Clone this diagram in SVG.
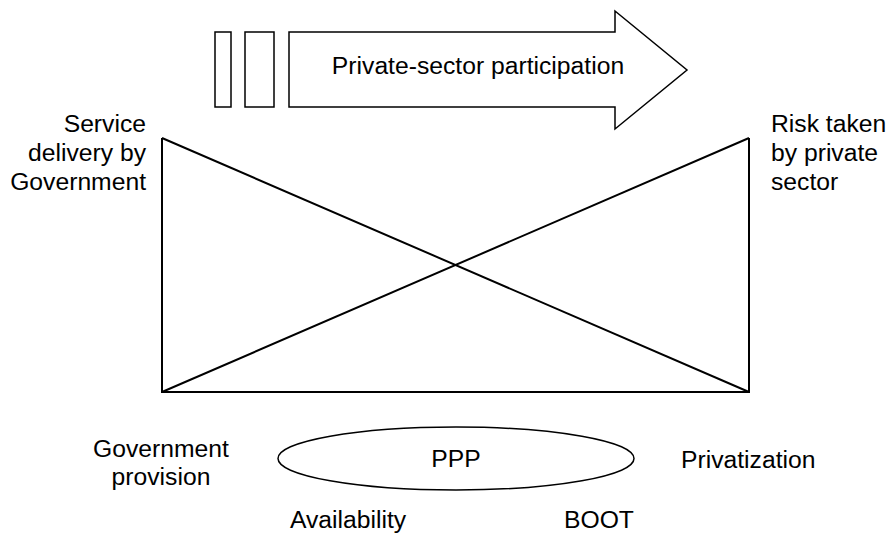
<svg xmlns="http://www.w3.org/2000/svg" width="889" height="534" viewBox="0 0 889 534">
<style>
text{font-family:"Liberation Sans",Arial,sans-serif;font-size:24.7px;fill:#000}
.thin{fill:#fff;stroke:#000;stroke-width:1.5}
.line{fill:none;stroke:#000;stroke-width:2}
</style>
<rect width="889" height="534" fill="#fff"/>
<g id="participation-arrow">
<rect class="thin" x="215" y="32" width="16" height="75"/>
<rect class="thin" x="245" y="32" width="29" height="75"/>
<polygon class="thin" points="289,32 615,32 615,11 687,70 615,129 615,107 289,107"/>
<text x="478" y="74" text-anchor="middle">Private-sector participation</text>
</g>
<g id="left-label">
<text x="146" y="132" text-anchor="end">Service</text>
<text x="146" y="161" text-anchor="end">delivery by</text>
<text x="146" y="190" text-anchor="end">Government</text>
</g>
<g id="right-label">
<text x="771" y="132">Risk taken</text>
<text x="771" y="161">by private</text>
<text x="771" y="190">sector</text>
</g>
<g id="connectors">
<polyline class="line" points="162,138 162,392 749,392 749,138"/>
<line class="line" x1="162" y1="138" x2="749" y2="392"/>
<line class="line" x1="162" y1="392" x2="749" y2="138"/>
</g>
<g id="government-provision">
<text x="161" y="457" text-anchor="middle">Government</text>
<text x="161" y="485" text-anchor="middle">provision</text>
</g>
<g id="ppp">
<ellipse class="thin" cx="456" cy="458.5" rx="178" ry="31.5"/>
<text x="456" y="467" text-anchor="middle">PPP</text>
</g>
<g id="privatization">
<text x="681" y="468">Privatization</text>
</g>
<g id="availability">
<text x="290" y="528">Availability</text>
</g>
<g id="boot">
<text x="564" y="528">BOOT</text>
</g>
</svg>
